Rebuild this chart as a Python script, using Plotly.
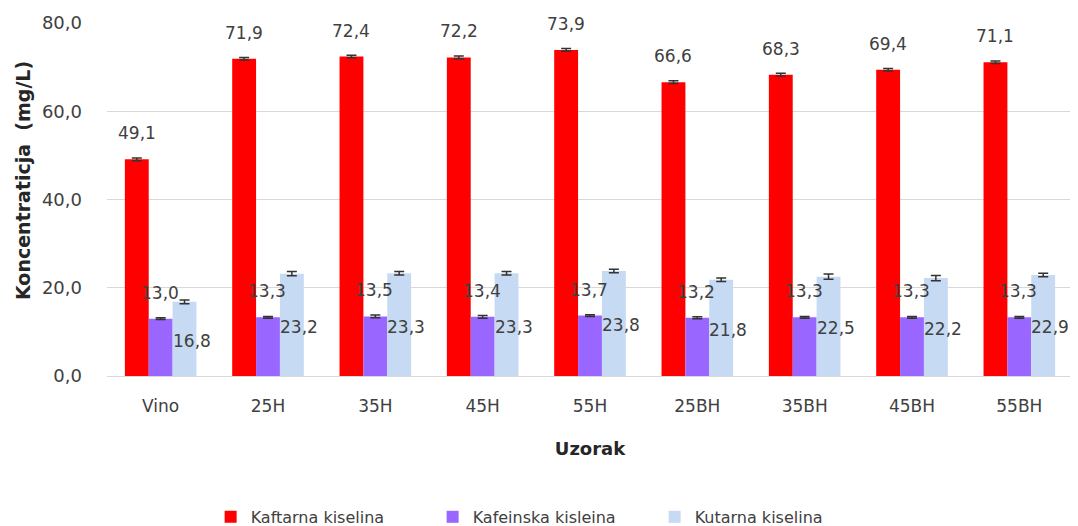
import plotly.graph_objects as go

categories = ["Vino", "25H", "35H", "45H", "55H", "25BH", "35BH", "45BH", "55BH"]
kaftarna = [49.1, 71.9, 72.4, 72.2, 73.9, 66.6, 68.3, 69.4, 71.1]
kafeinska = [13.0, 13.3, 13.5, 13.4, 13.7, 13.2, 13.3, 13.3, 13.3]
kutarna = [16.8, 23.2, 23.3, 23.3, 23.8, 21.8, 22.5, 22.2, 22.9]
err_kaftarna = [0.3, 0.3, 0.3, 0.3, 0.3, 0.3, 0.3, 0.3, 0.3]
err_kafeinska = [0.2, 0.2, 0.3, 0.3, 0.2, 0.2, 0.2, 0.2, 0.2]
err_kutarna = [0.4, 0.5, 0.4, 0.4, 0.4, 0.4, 0.6, 0.6, 0.4]
series_names = ["Kaftarna kiselina", "Kafeinska kisleina", "Kutarna kiselina"]
colors = ["#FF0000", "#9966FF", "#C6DAF3"]
y_title = "Koncentraticja  (mg/L)"
x_title = "Uzorak"

FONT = "DejaVu Sans"
TXT = "#404040"

fig = go.Figure()
for name, vals, errs, col in zip(series_names, [kaftarna, kafeinska, kutarna],
                                 [err_kaftarna, err_kafeinska, err_kutarna], colors):
    fig.add_trace(go.Bar(
        x=categories, y=vals, name=name, marker=dict(color=col, line=dict(width=0)),
        error_y=dict(type="data", array=errs, visible=True, color="#333333",
                     thickness=1.5, width=5),
    ))

def fmt(v):
    return f"{v:.1f}".replace(".", ",")

ann = []
for c, v in zip(categories, kaftarna):
    ann.append(dict(x=c, y=v, xref="x", yref="y", text=fmt(v), showarrow=False,
                    xshift=-24, yshift=26, yanchor="middle",
                    font=dict(family=FONT, size=17, color=TXT)))
for c, v in zip(categories, kafeinska):
    ann.append(dict(x=c, y=v, xref="x", yref="y", text=fmt(v), showarrow=False,
                    xshift=-1, yshift=26, yanchor="middle",
                    font=dict(family=FONT, size=17, color=TXT)))
for c, v in zip(categories, kutarna):
    ann.append(dict(x=c, y=v / 2, xref="x", yref="y", text=fmt(v), showarrow=False,
                    xshift=31, yshift=-2, yanchor="middle",
                    font=dict(family=FONT, size=17, color=TXT)))
# y-axis title
ann.append(dict(x=-0.087, y=0.555, xref="paper", yref="paper", text="<b>" + y_title + "</b>",
                textangle=-90, showarrow=False, xanchor="center", yanchor="middle",
                font=dict(family=FONT, size=19, color="#262626")))

# page body has an 8px margin, so the figure is sized to fit the window
fig.update_layout(
    width=1070, height=518,
    margin=dict(l=99, r=5, t=15, b=150, autoexpand=False),
    paper_bgcolor="white", plot_bgcolor="white",
    separators=",.",
    barmode="group", bargap=0.333, bargroupgap=0,
    font=dict(family=FONT, size=17, color=TXT),
    showlegend=True,
    legend=dict(orientation="h", x=0.452, xanchor="center", y=-0.351, yanchor="top",
                font=dict(family=FONT, size=16, color=TXT),
                entrywidth=177, entrywidthmode="pixels", itemwidth=30),
    annotations=ann,
    xaxis=dict(
        showgrid=False, showline=True, linecolor="#D9D9D9", linewidth=1,
        ticks="", ticklabelstandoff=15, automargin=False,
        tickfont=dict(family=FONT, size=17, color=TXT),
        title=dict(text="<b>" + x_title + "</b>", standoff=26,
                   font=dict(family=FONT, size=18, color="#262626")),
    ),
    yaxis=dict(
        range=[0, 80], dtick=20, tickformat=".1f", automargin=False,
        showgrid=True, gridcolor="#D9D9D9", gridwidth=1,
        zeroline=False, showline=False, ticks="", ticklabelstandoff=24,
        tickfont=dict(family=FONT, size=18, color=TXT),
    ),
)

fig.write_html("out.html")
